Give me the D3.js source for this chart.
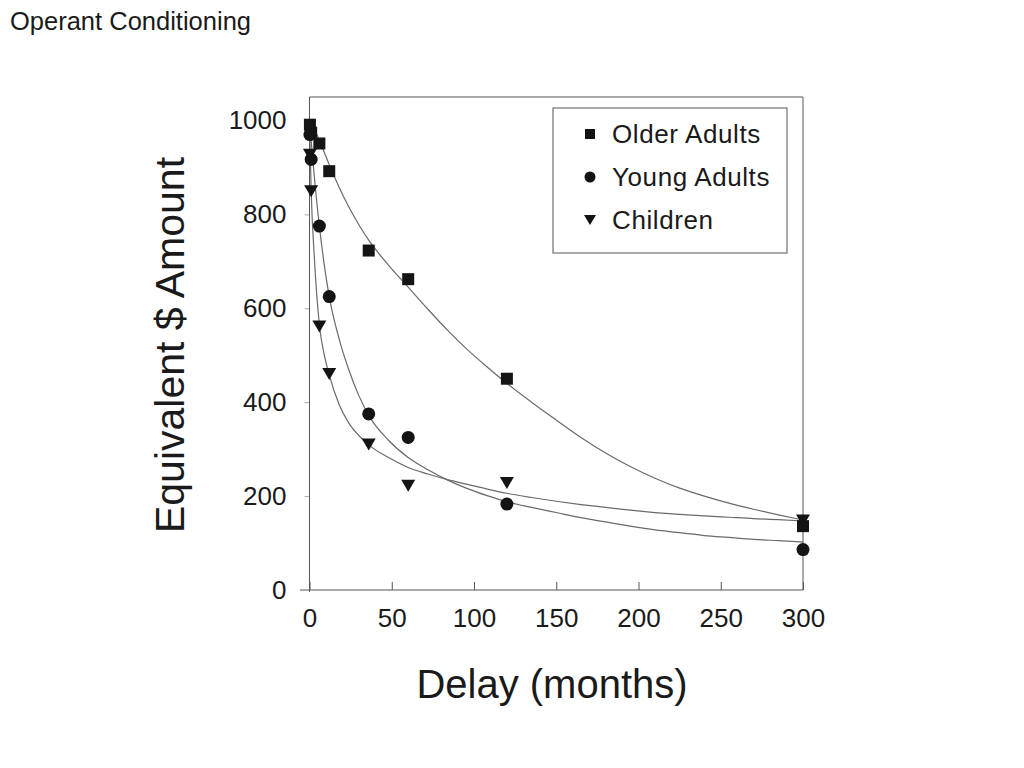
<!DOCTYPE html>
<html>
<head>
<meta charset="utf-8">
<script src="https://cdn.jsdelivr.net/npm/d3@7"></script>
<style>
  body { margin: 0; background: #fff; }
  text { font-family: "Liberation Sans", Arial, sans-serif; fill: #1a1a1a; }
</style>
</head>
<body>
<svg id="chart" width="1024" height="768"></svg>
<script>
/// Observed data (delay in months, equivalent $ amount)
var delays   = [0.25, 1, 6, 12, 36, 60, 120, 300]
var older    = [991, 974, 951, 892, 723, 662, 450, 136]
var young    = [970, 917, 775, 625, 375, 325, 183, 86]
var children = [927, 849, 561, 460, 310, 222, 228, 148]

/// Fitted curves
var fitX        = [0, 1, 3, 6, 9, 12, 18, 24, 30, 36, 48, 60, 72, 84, 96, 108, 120,
                   135, 150, 165, 180, 195, 210, 225, 240, 255, 270, 285, 300]
var olderFit    = [1000, 995, 982, 958, 932, 906, 858, 815, 778, 745, 692, 645, 598, 553, 512, 475, 440,
                   400, 362, 325, 292, 263, 238, 217, 200, 185, 172, 160, 149]
var youngFit    = [1000, 958, 878, 775, 692, 625, 535, 468, 414, 372, 319, 282, 256, 234, 216, 201, 188,
                   176, 165, 154, 145, 136, 128, 122, 116, 112, 108, 105, 102]
var childrenFit = [1000, 852, 705, 565, 500, 458, 395, 355, 329, 309, 282, 261, 247, 235, 225, 215, 206,
                   197, 189, 182, 176, 170, 165, 161, 158, 155, 152, 150, 147]

var xTicks = [0, 50, 100, 150, 200, 250, 300]
var yTicks = [0, 200, 400, 600, 800, 1000]

var seriesNames = ["Older Adults", "Young Adults", "Children"]
var shapes      = ["square", "circle", "triangle"]

var svg = d3.select("#chart")

var x = d3.scaleLinear().domain([0, 300]).range([309.5, 803])
var y = d3.scaleLinear().domain([0, 1050]).range([590, 97])

/// Title
svg.append("text")
  .attr("x", 10).attr("y", 30)
  .attr("font-size", 25.5)
  .text("Operant Conditioning")

/// Frame (top and right edges)
svg.append("path")
  .attr("d", "M" + x(0) + "," + y(1050) + "H" + x(300) + "V" + y(0))
  .attr("fill", "none").attr("stroke", "#555").attr("stroke-width", 1)

/// X axis: ticks point inward
var xAxis = svg.append("g")
  .attr("transform", "translate(0," + y(0) + ")")
  .call(d3.axisBottom(x).tickValues(xTicks).tickFormat(d3.format("d"))
        .tickSizeInner(-8).tickSizeOuter(0).tickPadding(19))
xAxis.select(".domain").remove()
xAxis.selectAll(".tick line").attr("stroke", "#555")
xAxis.selectAll(".tick text")
  .attr("font-size", 26).attr("font-family", "Liberation Sans, Arial, sans-serif").attr("fill", "#1a1a1a")
svg.append("line")
  .attr("x1", 300).attr("x2", x(300)).attr("y1", y(0)).attr("y2", y(0))
  .attr("stroke", "#555")

/// Y axis
var yAxis = svg.append("g")
  .attr("transform", "translate(" + x(0) + ",0)")
  .call(d3.axisLeft(y).tickValues(yTicks).tickFormat(d3.format("d"))
        .tickSizeInner(5).tickSizeOuter(0).tickPadding(18))
yAxis.select(".domain").remove()
yAxis.selectAll(".tick line").attr("stroke", "#aaa")
yAxis.selectAll(".tick text")
  .attr("font-size", 26).attr("font-family", "Liberation Sans, Arial, sans-serif").attr("fill", "#1a1a1a")
svg.append("line")
  .attr("x1", x(0)).attr("x2", x(0)).attr("y1", y(1050)).attr("y2", y(0) + 2)
  .attr("stroke", "#555")

/// Axis titles
svg.append("text")
  .attr("transform", "translate(184,345) rotate(-90)")
  .attr("text-anchor", "middle")
  .attr("font-size", 41)
  .text("Equivalent $ Amount")

svg.append("text")
  .attr("x", 552).attr("y", 698)
  .attr("text-anchor", "middle")
  .attr("font-size", 40)
  .text("Delay (months)")

/// Fitted curves
var line = d3.line()
  .x(d => x(d[0]))
  .y(d => y(d[1]))
  .curve(d3.curveMonotoneX)

var fits = [olderFit, youngFit, childrenFit]
svg.append("g").selectAll("path")
  .data(fits)
  .enter().append("path")
  .attr("d", f => line(fitX.map((d, i) => [d, f[i]])))
  .attr("fill", "none")
  .attr("stroke", "#6a6a6a")
  .attr("stroke-width", 1.2)

/// Marker drawing
function marker(sel, shape, s) {
  if (shape == "square") {
    sel.append("rect")
      .attr("x", -s / 2).attr("y", -s / 2)
      .attr("width", s).attr("height", s)
  } else if (shape == "circle") {
    sel.append("circle").attr("r", s / 2 + 0.5)
  } else {
    var w = s + 2, h = s
    sel.append("path")
      .attr("d", "M" + (-w / 2) + "," + (-h / 2) + "L" + (w / 2) + "," + (-h / 2) + "L0," + (h / 2) + "Z")
  }
}

var series = [older, young, children]
series.forEach(function(vals, k) {
  var g = svg.append("g").attr("fill", "#141414")
  g.selectAll("g")
    .data(vals)
    .enter().append("g")
    .attr("transform", (d, i) => "translate(" + x(delays[i]) + "," + y(d) + ")")
    .each(function() { marker(d3.select(this), shapes[k], 12) })
})

/// Legend
var legend = svg.append("g")
legend.append("rect")
  .attr("x", 553).attr("y", 108)
  .attr("width", 234).attr("height", 145)
  .attr("fill", "#fff").attr("stroke", "#555")

var legendBase = [143, 186, 229]
seriesNames.forEach(function(name, k) {
  var m = legend.append("g")
    .attr("fill", "#141414")
    .attr("transform", "translate(590," + (legendBase[k] - 9) + ")")
  marker(m, shapes[k], 10)
  legend.append("text")
    .attr("x", 612).attr("y", legendBase[k])
    .attr("font-size", 26)
    .attr("letter-spacing", 0.6)
    .text(name)
})
</script>
</body>
</html>
